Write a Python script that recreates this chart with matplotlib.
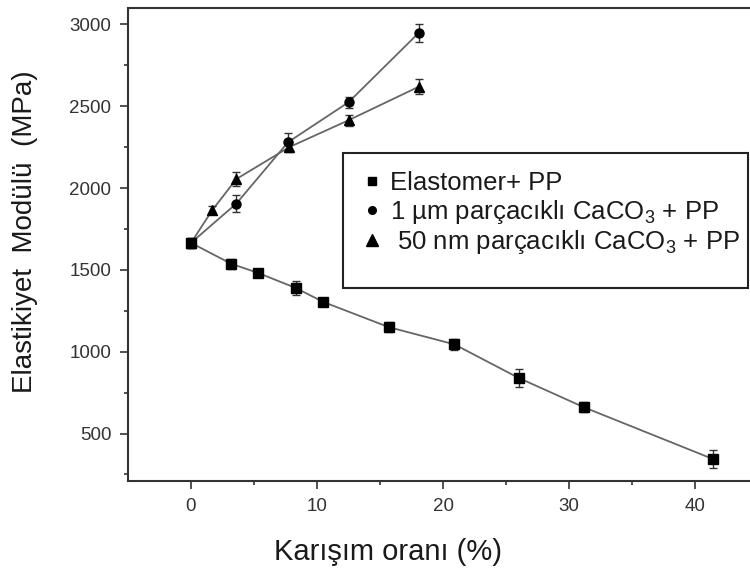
import numpy as np
import matplotlib
matplotlib.use('Agg')
import matplotlib.pyplot as plt
from matplotlib.lines import Line2D
from matplotlib.patches import Rectangle

plt.rcParams['font.family'] = ['Liberation Sans', 'DejaVu Sans']
plt.rcParams['mathtext.fontset'] = 'custom'
plt.rcParams['mathtext.rm'] = 'Liberation Sans'
plt.rcParams['mathtext.it'] = 'Liberation Sans:italic'

# Elastomer + PP
x_el = [0, 3.2, 5.3, 8.3, 10.5, 15.7, 20.9, 26.0, 31.2, 41.4]
y_el = [1665, 1537, 1482, 1390, 1304, 1150, 1045, 840, 660, 345]
e_el = [30, 30, 25, 45, 20, 30, 35, 55, 30, 55]

# 1 um CaCO3 + PP
x_um = [0, 3.6, 7.7, 12.5, 18.1]
y_um = [1665, 1905, 2280, 2524, 2950]
e_um = [30, 50, 55, 35, 55]

# 50 nm CaCO3 + PP
x_nm = [0, 1.7, 3.6, 7.8, 12.5, 18.1]
y_nm = [1665, 1866, 2055, 2250, 2414, 2620]
e_nm = [25, 25, 40, 30, 35, 45]

labels = ['Elastomer+ PP',
          r'1 µm parçacıklı CaCO$_3$ + PP',
          r' 50 nm parçacıklı CaCO$_3$ + PP']

W, H = 750, 576
fig = plt.figure(figsize=(7.5, 5.76), dpi=100)
ax = fig.add_axes([128/W, 1-481/H, 630/W, 473/H])

line_col = '#666666'
for xs, ys, es, m, ms in [(x_el, y_el, e_el, 's', 6.5),
                          (x_um, y_um, e_um, 'o', 6.5),
                          (x_nm, y_nm, e_nm, '^', 7.5)]:
    ax.plot(xs, ys, '-', color=line_col, lw=1.3, zorder=2)
    ax.errorbar(xs, ys, yerr=es, fmt=m, color='black', ms=ms,
                ecolor='#333333', elinewidth=1, capsize=3, capthick=1, zorder=3)

ax.set_xlim(-5, 45)
ax.set_ylim(210, 3100)
ax.set_xticks([0, 10, 20, 30, 40])
ax.set_xticks([5, 15, 25, 35], minor=True)
ax.set_yticks([500, 1000, 1500, 2000, 2500, 3000])
ax.set_yticks([250, 750, 1250, 1750, 2250, 2750], minor=True)
ax.tick_params(which='major', direction='out', length=6, width=1.2, pad=6,
               labelsize=13.5, labelcolor='#333333', color='#333333')
ax.tick_params(which='minor', direction='out', length=3, width=1.2, color='#333333')
for s in ax.spines.values():
    s.set_linewidth(1.5)
    s.set_color('#333333')

ax.set_xlabel('Karışım oranı (%)', fontsize=21, color='#1a1a1a')
ax.xaxis.set_label_coords((388-128)/630, -(552-481)/473)
ax.set_ylabel('Elastikiyet  Modülü  (MPa)', fontsize=20, color='#1a1a1a')
ax.yaxis.set_label_coords(-(128-25)/630, 1-(232-8)/473)
ax.yaxis.label.set_va('center')
ax.xaxis.label.set_va('center')

# legend box
fig.patches.append(Rectangle((343/W, 1-288/H), (748-343)/W, (288-153)/H,
                             transform=fig.transFigure, fill=False,
                             edgecolor='#222222', lw=1.5, zorder=5))
handles = [Line2D([], [], marker='s', ls='none', color='black', ms=5.5),
           Line2D([], [], marker='o', ls='none', color='black', ms=5.5),
           Line2D([], [], marker='^', ls='none', color='black', ms=8.5)]
leg = fig.legend(handles, labels, loc='upper left',
                 bbox_to_anchor=(364/W, 1-171/H),
                 fontsize=18.5, frameon=False, handlelength=0.6,
                 handletextpad=0.4, borderpad=0, labelspacing=0.1,
                 borderaxespad=0)
for t in leg.get_texts():
    t.set_color('#1a1a1a')

fig.savefig('out.png', dpi=100)
